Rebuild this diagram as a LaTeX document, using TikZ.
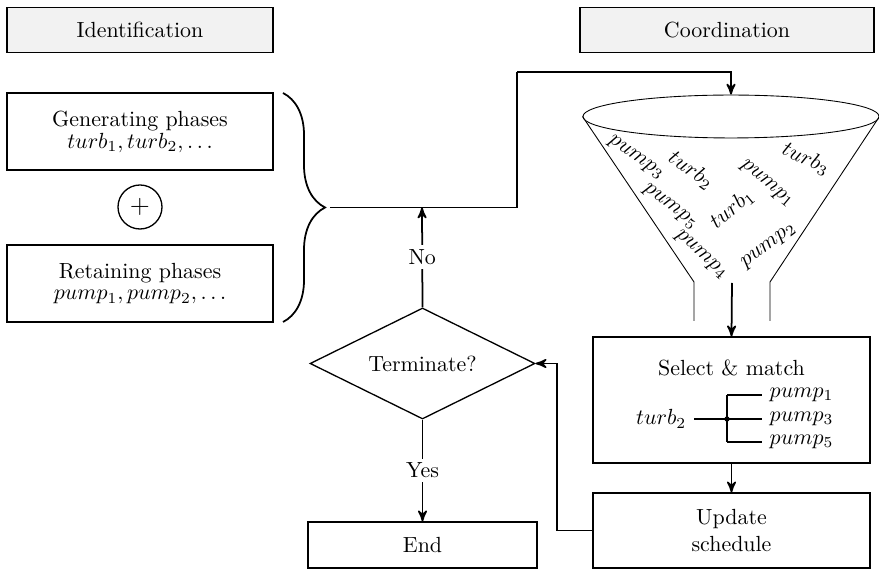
\documentclass[tikz,border=0pt]{standalone}
\usetikzlibrary{arrows, shapes.geometric, decorations.pathreplacing}

\definecolor{hdrgray}{RGB}{242,242,242}

\begin{document}
\begin{tikzpicture}[x=0.4566pt, y=-0.4566pt]

\tikzset{box/.style = {shape=rectangle, draw, semithick, inner sep=2pt}}
\tikzset{header/.style = {box, fill=hdrgray, minimum height=20.5pt}}
\tikzset{flow/.style = {->, > = stealth', thick}}
\tikzset{item/.style = {inner sep=0pt}}

\useasboundingbox (0,0) rectangle (879,570);

%headers
\node[header, minimum width=121.5pt] (ident) at (140,30) {Identification};
\node[header, minimum width=134.2pt] (coord) at (727,30) {Coordination};

%phases
\node[box, minimum width=121.5pt, minimum height=35.2pt, align=center] (gen) at (140,131.5)
  {Generating phases\\[-2pt] $turb_1, turb_2, \ldots$};
\node[shape=circle, draw, semithick, minimum size=20.1pt, inner sep=0pt] (plus) at (140,207) {\large$+$};
\node[box, minimum width=121.5pt, minimum height=35.2pt, align=center] (ret) at (140,283.5)
  {Retaining phases\\[-2pt] $pump_1, pump_2, \ldots$};
\draw[thick, decorate, decoration={brace, amplitude=19.2pt}] (283,93) -- (283,322);
\coordinate (bracetip) at (330,207.5);
\coordinate (merge) at (422,207.5);
\coordinate (bend) at (517,72);

%decision
\node[shape=diamond, draw, semithick, shape aspect=2, minimum width=102.7pt, minimum height=50.7pt, inner sep=0pt] (term) at (422.5,363.5) {Terminate?};
\node[box, minimum width=104.6pt, minimum height=21pt] (end) at (422.5,545) {End};

%funnel
\node[shape=ellipse, draw, minimum width=135.2pt, minimum height=19.6pt, inner sep=0pt] (funnel) at (731,116.5) {};
\draw (funnel.west) -- (694,282) -- (694,321);
\draw (funnel.east) -- (770,282) -- (770,321);
\coordinate (spout) at (732,283);
\node[item, rotate=-35] at (636,158) {$pump_3$};
\node[item, rotate=-35] at (691,170) {$turb_2$};
\node[item, rotate=-40] at (767,184) {$pump_1$};
\node[item, rotate=-25] at (806,159) {$turb_3$};
\node[item, rotate=-38] at (670,207) {$pump_5$};
\node[item, rotate=40] at (732,209) {$turb_1$};
\node[item, rotate=-42] at (701,255) {$pump_4$};
\node[item, rotate=37] at (769,246) {$pump_2$};

%select and update
\node[box, minimum width=126.5pt, minimum height=57.5pt] (select) at (731.5,400) {};
\node (sellabel) at (731.5,368) {Select \& match};
\node[anchor=east] (t2) at (694,419) {$turb_2$};
\coordinate (fork) at (727,419);
\node[anchor=west] (p1) at (762,395) {$pump_1$};
\node[anchor=west] (p3) at (762,419) {$pump_3$};
\node[anchor=west] (p5) at (762,442) {$pump_5$};
\draw[thick] (t2.east) -- (fork);
\draw[thick] (fork |- p1) -- (fork |- p5);
\foreach \p in {p1,p3,p5}
  \draw[thick] (fork |- \p) -- (\p.west);
\fill (fork) circle (1.2pt);
\node[box, minimum width=126.5pt, minimum height=34.2pt, align=center] (update) at (731.5,530.5) {Update\\schedule};

%connectors
\draw[thick] (bracetip) -| (bend);
\draw[flow] (bend) -| (funnel.north);
\draw[flow] (term.north) -- node[fill=white, inner sep=2pt] {No} (merge);
\draw[flow] (term.south) -- node[fill=white, inner sep=2pt] {Yes} (end.north);
\draw[flow] (spout) -- (select.north);
\draw[flow] (select.south) -- (update.north);
\draw[flow] (update.west) -- ++(-35,0) |- (term.east);

\end{tikzpicture}
\end{document}
